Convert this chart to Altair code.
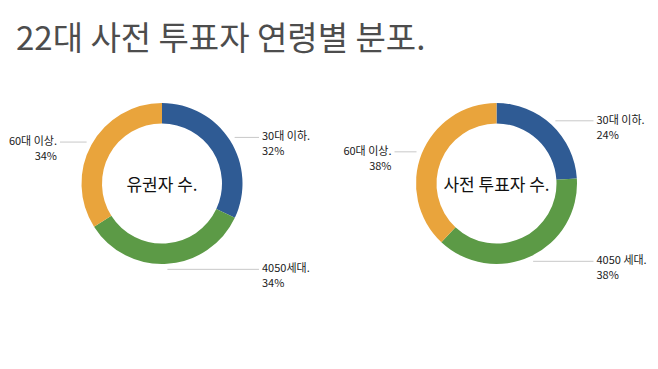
import math
import altair as alt
import pandas as pd

# ---- data ----
title_text = "22대 사전 투표자 연령별 분포."
donut_names = ["유권자 수.", "사전 투표자 수."]
labels_left = ["30대 이하.", "4050세대.", "60대 이상."]
labels_right = ["30대 이하.", "4050 세대.", "60대 이상."]
share_left = [32, 34, 34]
share_right = [24, 38, 38]
colors = ["#2f5b94", "#5c9a46", "#e9a43c"]

# ---- layout constants ----
W, H = 642, 293
PAD_TOP = 60
CENTERS = [(154, 115.5), (488.5, 115.5)]
R_OUT, R_IN = 80.5, 60
R_LEAD = 86
ARM_R, ARM_L = 97, 102
FONT = "Noto Sans CJK KR"

rows = []
for d, (name, labs, shares) in enumerate(
    [(donut_names[0], labels_left, share_left), (donut_names[1], labels_right, share_right)]
):
    cx, cy = CENTERS[d]
    total = sum(shares)
    cum = 0
    for i, (lab, s) in enumerate(zip(labs, shares)):
        mid = (cum + s / 2) / total * 2 * math.pi
        cum += s
        sx = cx + R_LEAD * math.sin(mid)
        sy = cy - R_LEAD * math.cos(mid)
        side = "R" if math.sin(mid) >= 0 else "L"
        ex = cx + ARM_R if side == "R" else cx - ARM_L
        tx = ex + 3 if side == "R" else ex - 3
        rows.append(dict(donut=name, key=f"k{i}", idx=i, share=s,
                         label=f"{lab}\n{s}%", sx=sx, sy=sy, ex=ex, tx=tx, side=side))
df = pd.DataFrame(rows)

centers_df = pd.DataFrame({
    "donut": donut_names,
    "cx": [c[0] for c in CENTERS],
    "cy": [c[1] + 2 for c in CENTERS],
})

layers = []
for d, name in enumerate(donut_names):
    cx, cy = CENTERS[d]
    layers.append(
        alt.Chart(df).transform_filter(alt.datum.donut == name)
        .mark_arc(innerRadius=R_IN, outerRadius=R_OUT)
        .encode(
            theta=alt.Theta("share:Q", stack=True),
            color=alt.Color("key:N", scale=alt.Scale(domain=["k0", "k1", "k2"], range=colors), legend=None),
            order=alt.Order("idx:Q"),
            x=alt.value(cx),
            y=alt.value(cy),
        )
    )

rules = alt.Chart(df).mark_rule(color="#c8c8c8", strokeWidth=1).encode(
    x=alt.X("sx:Q", scale=None, axis=None),
    x2="ex:Q",
    y=alt.Y("sy:Q", scale=None, axis=None),
)

lab_common = dict(baseline="middle", lineBreak="\n", fontSize=11, lineHeight=15,
                  font=FONT, color="#1a1a1a")
labels_r = alt.Chart(df).transform_filter(alt.datum.side == "R").mark_text(align="left", **lab_common).encode(
    x=alt.X("tx:Q", scale=None, axis=None),
    y=alt.Y("sy:Q", scale=None, axis=None),
    text="label:N",
)
labels_l = alt.Chart(df).transform_filter(alt.datum.side == "L").mark_text(align="right", **lab_common).encode(
    x=alt.X("tx:Q", scale=None, axis=None),
    y=alt.Y("sy:Q", scale=None, axis=None),
    text="label:N",
)

center_txt = alt.Chart(centers_df).mark_text(fontSize=17, font=FONT, color="#111111", baseline="middle").encode(
    x=alt.X("cx:Q", scale=None, axis=None),
    y=alt.Y("cy:Q", scale=None, axis=None),
    text="donut:N",
)

chart = alt.layer(*layers, rules, labels_r, labels_l, center_txt).properties(
    width=W,
    height=H,
    autosize=alt.AutoSizeParams(type="none"),
    padding={"left": 0, "top": PAD_TOP, "right": 0, "bottom": 0},
    title=alt.TitleParams(title_text, anchor="start", fontSize=33, color="#4d4d4d",
                          font=FONT, fontWeight="normal", offset=11, dx=8),
).configure_view(stroke=None).resolve_scale(theta="independent")

chart.save("out.html", embed_options={"renderer": "svg", "actions": False})
